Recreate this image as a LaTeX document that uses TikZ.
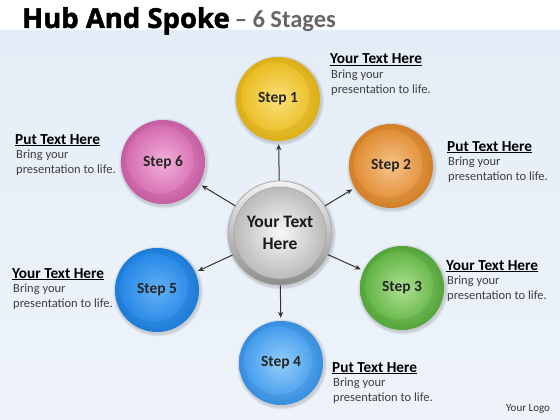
\documentclass[tikz,border=0pt]{standalone}
\usepackage{fontspec}
\setmainfont{Carlito}
\newfontfamily\titlefont[BoldFeatures={FakeBold=1.6}]{Open Sans}
\usetikzlibrary{arrows.meta}
\definecolor{bgblue}{HTML}{E4EDF7}
\definecolor{bgblue2}{HTML}{EEF3F9}
\definecolor{bodygray}{HTML}{404040}
\definecolor{subgray}{HTML}{666666}
\definecolor{yelD}{HTML}{E8B818}\definecolor{yelL}{HTML}{F9E078}
\definecolor{orgD}{HTML}{DE8628}\definecolor{orgL}{HTML}{F6C38A}
\definecolor{grnD}{HTML}{58AE3C}\definecolor{grnL}{HTML}{AEE092}
\definecolor{bluD}{HTML}{3A96EA}\definecolor{bluL}{HTML}{94CEFA}
\definecolor{dbuD}{HTML}{1E82E4}\definecolor{dbuL}{HTML}{62B0F4}
\definecolor{pnkD}{HTML}{D062AA}\definecolor{pnkL}{HTML}{F2B0DA}
\tikzset{
  stepball/.style 2 args={circle, minimum size=84pt, inner sep=0pt,
    inner color=#2!75!#1, outer color=#1!95!black,
    path picture={
      \shade[inner color=#2, outer color=#1, draw=#1!75!black, draw opacity=0.2]
        ([xshift=-3pt,yshift=2.5pt]path picture bounding box.center) circle (34.5pt);
    },
    font=\bfseries\fontsize{15.5}{15}\selectfont, text=black!85},
  hubball/.style={circle, minimum size=104pt, inner sep=0pt,
    top color=white!90!gray, bottom color=black!45, draw=black!35, line width=0.6pt,
    path picture={
      \shade[inner color=black!3, outer color=black!30, draw=black!35]
        (path picture bounding box.center) circle (46pt);
    },
    font=\bfseries\fontsize{17.5}{22}\selectfont, text=black!90, align=center},
  spoke/.style={-{Stealth[length=6pt,width=5pt]}, line width=1pt, draw=black!80, shorten >=3pt},
  headtxt/.style={anchor=base west, inner sep=0pt, font=\bfseries\fontsize{15.3}{15}\selectfont, text=black},
  bodytxt/.style={anchor=base west, inner sep=0pt, font=\fontsize{12.5}{14}\selectfont, text=bodygray},
  glow/.style={fill=black, fill opacity=0.05},
}
\newcommand\infoblock[4]{%
  \node[headtxt] (#1h) at (#2,#3) {\underline{#4}};
  \node[bodytxt] (#1a) at (#2+1,#3+14.5) {Bring your};
  \node[bodytxt] (#1b) at (#2+1,#3+29.5) {presentation to life.};
}
\newcommand\softshadow[3]{%
  \foreach \rr in {1,2,3}{\fill[glow] (#1+1,#2+1.5) circle (#3+\rr);}
}
\begin{document}
\begin{tikzpicture}[x=1pt,y=-1pt]
\useasboundingbox (0,0) rectangle (560,420);
\fill[white] (0,0) rectangle (560,420);
\shade[top color=bgblue, middle color=white, bottom color=bgblue2] (0,30) rectangle (560,420);
\fill[white] (0,0) rectangle (560,30);

% title
\node[anchor=base west, inner sep=0pt] (title) at (22,28)
  {{\titlefont\bfseries\fontsize{27.5}{28}\selectfont Hub And Spoke}\hspace{5pt}{\bfseries\fontsize{24.5}{26}\selectfont\color{subgray} – 6 Stages}};

% soft shadows
\softshadow{280}{233}{52}
\softshadow{278}{99}{42}
\softshadow{391}{166}{42}
\softshadow{402}{288}{42}
\softshadow{281}{363}{42}
\softshadow{157}{290}{42}
\softshadow{163}{162}{42}

% hub and steps
\node[hubball] (hub) at (280,233) {Your Text\\Here};
\node[stepball={yelD}{yelL}] (s1) at (278,99) {Step 1};
\node[stepball={orgD}{orgL}] (s2) at (391,166) {Step 2};
\node[stepball={grnD}{grnL}] (s3) at (402,288) {Step 3};
\node[stepball={bluD}{bluL}] (s4) at (281,363) {Step 4};
\node[stepball={dbuD}{dbuL}] (s5) at (157,290) {Step 5};
\node[stepball={pnkD}{pnkL}] (s6) at (163,162) {Step 6};

% spokes
\foreach \s in {s1,s2,s3,s4,s5,s6}{\draw[spoke] (hub) -- (\s);}

% texts
\infoblock{t1}{330}{64}{Your Text Here}
\infoblock{t2}{447}{151}{Put Text Here}
\infoblock{t3}{446}{270}{Your Text Here}
\infoblock{t4}{332}{372}{Put Text Here}
\infoblock{t5}{12}{278}{Your Text Here}
\infoblock{t6}{15}{144}{Put Text Here}

\node[anchor=base west, inner sep=0pt, font=\fontsize{11}{12}\selectfont, text=black!80] (logo) at (506,411) {Your Logo};
\end{tikzpicture}
\end{document}
